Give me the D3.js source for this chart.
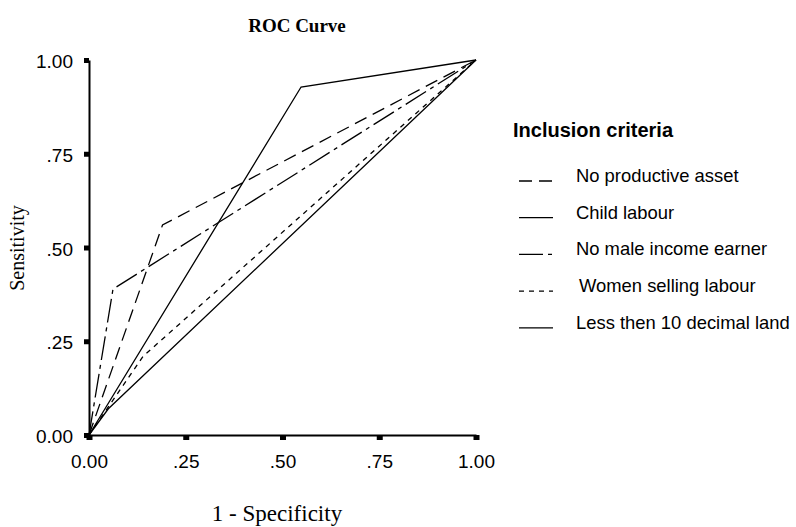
<!DOCTYPE html>
<html>
<head>
<meta charset="utf-8">
<script src="https://cdn.jsdelivr.net/npm/d3@7"></script>
<style>
  body { margin: 0; background: #fff; }
  .tick text { font-family: "Liberation Sans", Arial, sans-serif; font-size: 19px; fill: #000; }
  .serif { font-family: "Liberation Serif", "Times New Roman", serif; }
  .sans { font-family: "Liberation Sans", Arial, sans-serif; }
</style>
</head>
<body>
<div class="view"></div>
<script>
var width = 796;
var height = 527;

// ROC points: each test has one cut point between (0,0) and (1,1)
var seriesNames = ["No productive asset", "Child labour", "No male income earner",
                   "Women selling labour", "Less then 10 decimal land"];
var fprPoints = [[0, 0.19, 1], [0, 0.548, 1], [0, 0.062, 1], [0, 0.14, 1], [0, 0.05, 1]];
var tprPoints = [[0, 0.56, 1], [0, 0.928, 1], [0, 0.389, 1], [0, 0.21, 1], [0, 0.07, 1]];
var tickValues = [0, 0.25, 0.5, 0.75, 1];
var tickLabels = ["0.00", ".25", ".50", ".75", "1.00"];

// line styles
var dashes = ["13,7", null, "24,5,4,5", "5,5", null];

var svg = d3.select(".view")
    .append("svg")
    .attr("width", width)
    .attr("height", height);

var x = d3.scaleLinear().domain([0, 1]).range([89, 476]);
var y = d3.scaleLinear().domain([0, 1]).range([435, 60]);

var fmt = function (d) { return tickLabels[tickValues.indexOf(d)]; };

var gy = svg.append("g")
    .attr("transform", "translate(" + x(0) + ",0)")
    .call(d3.axisLeft(y).tickValues(tickValues).tickFormat(fmt)
        .tickSize(5).tickSizeOuter(0).tickPadding(11));
gy.selectAll(".tick line").attr("stroke", "#000").attr("stroke-width", 5);
gy.selectAll(".tick text").attr("dy", "0.4em");
gy.select(".domain").attr("stroke", "#000").attr("stroke-width", 2);

var gx = svg.append("g")
    .attr("transform", "translate(0," + y(0) + ")")
    .call(d3.axisBottom(x).tickValues(tickValues).tickFormat(fmt)
        .tickSize(5).tickSizeOuter(0).tickPadding(15));
gx.selectAll(".tick line").attr("stroke", "#000").attr("stroke-width", 6);
gx.select(".domain").attr("stroke", "#000").attr("stroke-width", 2);

var line = d3.line()
    .x(function (d) { return x(d[0]); })
    .y(function (d) { return y(d[1]); });

seriesNames.forEach(function (name, i) {
    var pts = fprPoints[i].map(function (f, j) { return [f, tprPoints[i][j]]; });
    svg.append("path")
        .datum(pts)
        .attr("fill", "none")
        .attr("stroke", "#000")
        .attr("stroke-width", 1.3)
        .attr("stroke-dasharray", dashes[i])
        .attr("d", line);
});

// titles
svg.append("text")
    .attr("class", "serif")
    .attr("x", 297).attr("y", 32)
    .attr("text-anchor", "middle")
    .attr("font-weight", "bold")
    .attr("font-size", 19)
    .text("ROC Curve");

svg.append("text")
    .attr("class", "serif")
    .attr("transform", "translate(24,248) rotate(-90)")
    .attr("text-anchor", "middle")
    .attr("font-size", 20)
    .text("Sensitivity");

svg.append("text")
    .attr("class", "serif")
    .attr("x", 277).attr("y", 521)
    .attr("text-anchor", "middle")
    .attr("font-size", 23)
    .text("1 - Specificity");

// legend
var legend = svg.append("g").attr("class", "legend");

legend.append("text")
    .attr("class", "sans")
    .attr("x", 513).attr("y", 137)
    .attr("font-weight", "bold")
    .attr("font-size", 20)
    .text("Inclusion criteria");

var items = legend.selectAll(".item")
    .data(seriesNames)
    .enter().append("g")
    .attr("class", "item")
    .attr("transform", function (d, i) { return "translate(0," + (176 + i * 36.7) + ")"; });

items.append("line")
    .attr("x1", 519).attr("x2", 553)
    .attr("y1", 5).attr("y2", 5)
    .attr("stroke", "#000")
    .attr("stroke-width", 1.3)
    .attr("stroke-dasharray", function (d, i) { return dashes[i]; });

items.append("text")
    .attr("class", "sans")
    .attr("x", function (d, i) { return i == 3 ? 579 : 576; })
    .attr("y", 6)
    .attr("font-size", 18.4)
    .text(function (d) { return d; });
</script>
</body>
</html>
